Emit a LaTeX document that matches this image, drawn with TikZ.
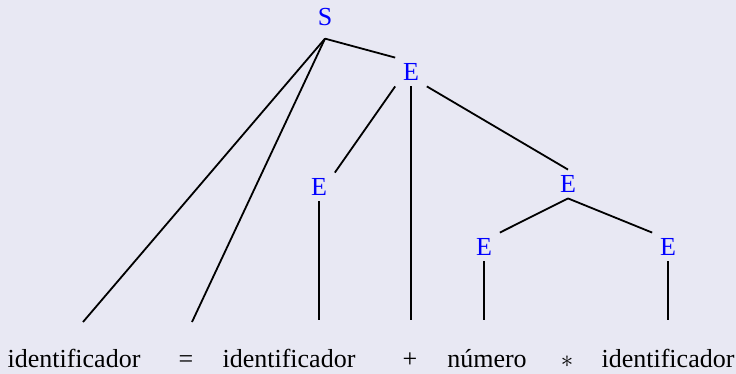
\documentclass[tikz,border=0pt]{standalone}
\usepackage{fontspec}
\setmainfont{Liberation Serif}
\newfontfamily\arbol{Liberation Serif}
\usetikzlibrary{positioning}
\definecolor{fondo}{RGB}{232,232,243}
\definecolor{azul}{RGB}{0,0,255}

\begin{document}
\begin{tikzpicture}[x=1pt, y=-1pt, line width=1.8pt,
  nt/.style={text=azul, font=\arbol\fontsize{26}{31}\selectfont, inner xsep=7pt, inner ysep=5pt},
  hoja/.style={anchor=base, font=\arbol\fontsize{26}{31}\selectfont, inner sep=0pt}]
\useasboundingbox (0,0) rectangle (736,374);
\fill[fondo] (0,0) rectangle (736,374);
% no terminales
\node[nt, inner ysep=12pt] (S) at (325,17) {S};
\node[nt] (E1) at (411,72) {E};
\node[nt] (E2) at (319,187) {E};
\node[nt] (E3) at (568,184) {E};
\node[nt] (E4) at (484,247) {E};
\node[nt] (E5) at (668,247) {E};
% terminales
\node[hoja] (id1) at (74,367) {identificador};
\node[hoja] (igual) at (186,367) {=};
\node[hoja] (id2) at (289,367) {identificador};
\node[hoja] (mas) at (410,367) {+};
\node[hoja] (num) at (487,367) {número};
\node[hoja] (por) at (567,367) {$*$};
\node[hoja] (id3) at (668,367) {identificador};
% extremos de las ramas
\coordinate (t1) at (83,322);
\coordinate (t2) at (192,322);
\coordinate (t3) at (319,320);
\coordinate (t4) at (411,320);
\coordinate (t5) at (484,320);
\coordinate (t6) at (668,320);
\draw (S.south) -- (E1.north west);
\draw (S.south) -- (t1);
\draw (S.south) -- (t2);
\draw (E1.south west) -- (E2.north east);
\draw (E1.south) -- (t4);
\draw (E1.south east) -- (E3.north);
\draw (E2.south) -- (t3);
\draw (E3.south) -- (E4.north east);
\draw (E3.south) -- (E5.north west);
\draw (E4.south) -- (t5);
\draw (E5.south) -- (t6);
\end{tikzpicture}
\end{document}
